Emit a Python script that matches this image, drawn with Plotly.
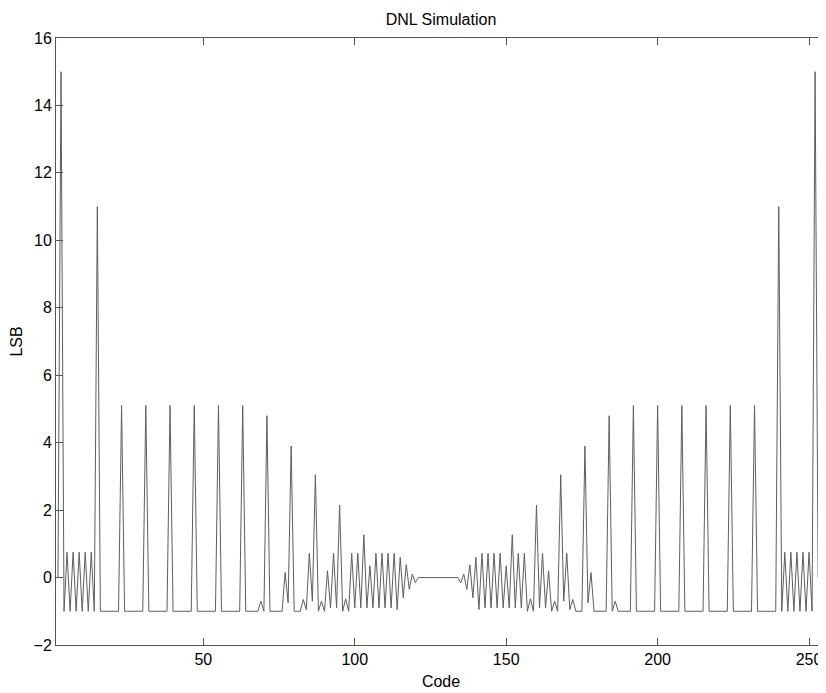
import plotly.graph_objects as go

# DNL per code (codes 1..254)
codes = list(range(1, 255))
dnl = [
    0, 0, 15, -1, 0.75, -1, 0.75, -1, 0.75, -1, 0.75, -1, 0.75, -1, 11, -1,    # 1-16
    -1, -1, -1, -1, -1, -1, 5.1, -1, -1, -1, -1, -1, -1, -1, 5.1, -1,          # 17-32
    -1, -1, -1, -1, -1, -1, 5.1, -1, -1, -1, -1, -1, -1, -1, 5.1, -1,          # 33-48
    -1, -1, -1, -1, -1, -1, 5.1, -1, -1, -1, -1, -1, -1, -1, 5.1, -1,          # 49-64
    -1, -1, -1, -1, -0.7, -1, 4.8, -1, -1, -1, -1, -1, 0.15, -0.75, 3.9, -1,   # 65-80
    -1, -1, -0.65, -0.95, 0.72, -0.7, 3.05, -1, -0.7, -1, 0.2, -0.9, 0.72, -0.9, 2.15, -1,  # 81-96
    -0.63, -1, 0.72, -0.9, 0.72, -0.9, 1.27, -0.9, 0.35, -0.9, 0.72, -0.9, 0.72, -0.9, 0.72, -0.9,  # 97-112
    0.72, -0.95, 0.6, -0.6, 0.38, -0.35, 0.1, -0.15, 0, 0, 0, 0, 0, 0, 0, 0,  # 113-128
    0, 0, 0, 0, 0, 0, -0.15, 0.1, -0.35, 0.38, -0.6, 0.6, -0.95, 0.72, -0.9, 0.72,  # 129-144
    -0.9, 0.72, -0.9, 0.72, -0.9, 0.35, -0.9, 1.27, -0.9, 0.72, -0.9, 0.72, -1, -0.63, -1, 2.15,  # 145-160
    -0.9, 0.72, -0.9, 0.2, -1, -0.7, -1, 3.05, -0.7, 0.72, -0.95, -0.65, -1, -1, -1, 3.9,  # 161-176
    -0.75, 0.15, -1, -1, -1, -1, -1, 4.8, -1, -0.7, -1, -1, -1, -1, -1, 5.1,   # 177-192
    -1, -1, -1, -1, -1, -1, -1, 5.1, -1, -1, -1, -1, -1, -1, -1, 5.1,          # 193-208
    -1, -1, -1, -1, -1, -1, -1, 5.1, -1, -1, -1, -1, -1, -1, -1, 5.1,          # 209-224
    -1, -1, -1, -1, -1, -1, -1, 5.1, -1, -1, -1, -1, -1, -1, -1, 11,           # 225-240
    -1, 0.75, -1, 0.75, -1, 0.75, -1, 0.75, -1, 0.75, -1, 15, 0, 0,            # 241-254
]
x_ticks = [50, 100, 150, 200, 250]
y_ticks = [-2, 0, 2, 4, 6, 8, 10, 12, 14, 16]

FONT = "Liberation Sans, Arial, Helvetica, sans-serif"
AXIS_COL = "#555555"

# page body has an 8px margin, so the figure is 8px smaller than the window
W, H = 818, 685

fig = go.Figure(go.Scatter(x=codes, y=dnl, mode="lines",
                           line=dict(color="#5e5e5e", width=1)))

fig.update_layout(
    width=W, height=H,
    margin=dict(l=48, r=0, t=30, b=48),
    paper_bgcolor="white", plot_bgcolor="white",
    showlegend=False,
    font=dict(family=FONT, size=16, color="black"),
    title=dict(text="DNL Simulation", x=(48 + 770 / 2) / W, xanchor="center",
               y=1 - 11 / H, yanchor="middle", font=dict(size=16)),
)
fig.update_xaxes(
    range=[1.35, 255.6], tickvals=x_ticks, ticks="inside", ticklen=7,
    tickcolor=AXIS_COL, showline=True, linecolor=AXIS_COL, linewidth=1,
    mirror="ticks", showgrid=False, zeroline=False, automargin=False,
    tickfont=dict(size=16),
    title=dict(text="Code", standoff=8, font=dict(size=16)),
)
fig.update_yaxes(
    range=[-2, 16], tickvals=y_ticks, ticks="inside", ticklen=7,
    tickcolor=AXIS_COL, showline=True, linecolor=AXIS_COL, linewidth=1,
    mirror="ticks", showgrid=False, zeroline=False, automargin=False,
    tickfont=dict(size=16),
    title=dict(text="LSB", standoff=6, font=dict(size=16)),
)

fig.write_html("out.html")
